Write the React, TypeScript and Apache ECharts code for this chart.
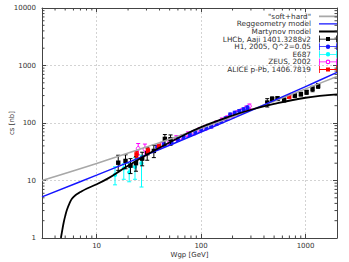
import React, { useEffect, useRef } from 'react';
import * as echarts from 'echarts';

const FONT = 'DejaVu Sans';

// model curves
const softHardW = [3, 10, 30, 100, 300, 1000, 2000];
const softHardCs = [10, 19.8, 38.3, 80.8, 169, 392, 645];
const reggeoW = [3, 10, 30, 100, 300, 1000, 2000];
const reggeoCs = [5.2, 12.4, 27.9, 69.7, 164, 430, 759];
const martynovW = [4.55, 4.7, 4.85, 5.0, 5.2, 5.5, 5.8, 6.3, 7, 8, 10, 13, 17, 25, 40, 63, 100, 200, 300, 500, 1000, 2000];
const martynovCs = [1, 1.4, 1.9, 2.4, 3.1, 4.0, 4.8, 5.6, 6.3, 7.2, 8.6, 11, 15, 23, 37, 57, 85, 135, 170, 215, 275, 315];

// data sets
const lhcbW = [16.1, 18.9, 21.1, 23.8, 27.3, 30.5, 35.3, 45, 51, 430, 479, 539, 624, 790, 902, 1023, 1167, 1320];
const lhcbCs = [20.4, 21.9, 18.1, 20, 24, 29.8, 32.7, 52.9, 52.3, 227, 260, 266, 252, 300, 318, 344, 393, 443];
const lhcbLo = [15, 16, 13.2, 14.5, 18, 22.5, 25, 41, 41, 190, 235, 245, 232, 280, 295, 315, 350, 400];
const lhcbHi = [27.5, 28, 24, 26, 31, 37, 41, 63, 62, 265, 285, 288, 272, 320, 342, 372, 435, 485];

const h1W = [38, 44, 52, 60, 68, 78, 88, 100, 112, 125, 140, 155, 172, 190, 210, 232, 255, 278];
const h1Cs = [38, 42, 46, 52, 58, 63, 70, 78, 84, 88, 99, 108, 120, 140, 150, 160, 172, 185];
const h1Lo = [35, 39, 43, 48, 54, 59, 65, 73, 78, 82, 92, 101, 112, 131, 140, 149, 160, 172];
const h1Hi = [41, 45, 49, 56, 62, 67, 75, 83, 90, 94, 106, 115, 128, 149, 160, 171, 184, 198];

const e687W = [15.0, 18.2, 20.5, 23.3, 26.9];
const e687Cs = [12.5, 16.3, 13.9, 17.3, 20.0];
const e687Lo = [8.4, 10.5, 9.5, 10.5, 7.7];
const e687Hi = [17.3, 19.5, 20, 25, 27.5];

const zeusW = [25, 29, 42, 50, 58, 66, 75, 85, 97, 110, 125, 140, 158, 178, 200, 222, 245, 270, 290];
const zeusCs = [36, 35, 42, 47, 55, 57, 64, 68, 76, 83, 90, 100, 112, 122, 135, 150, 162, 180, 196];
const zeusLo = [28, 27, 38, 42, 50, 52, 58, 62, 69, 75, 82, 91, 102, 111, 123, 137, 148, 164, 178];
const zeusHi = [44, 43, 46, 52, 60, 62, 70, 74, 83, 91, 98, 109, 122, 133, 147, 163, 176, 196, 214];

const aliceW = [24.1, 31, 39.5, 697];
const aliceCs = [28.5, 33, 39, 288];
const aliceLo = [25, 30, 35.5, 270];
const aliceHi = [32, 36.5, 43, 306];

// minor tick positions
const xMinorTicks = [4, 5, 6, 7, 8, 9, 20, 30, 40, 50, 60, 70, 80, 90, 200, 300, 400, 500, 600, 700, 800, 900];
const yMinorTicks = [2, 3, 4, 5, 6, 7, 8, 9, 20, 30, 40, 50, 60, 70, 80, 90, 200, 300, 400, 500, 600, 700, 800, 900, 2000, 3000, 4000, 5000, 6000, 7000, 8000, 9000];

const AXIS_COLOR = '#444';
const TEXT_COLOR = '#333';

const ICON_LINE_THIN = 'path://M0,0L0,0ZM18,7L18,7ZM0,2.8H18V4.2H0Z';
const ICON_LINE_THICK = 'path://M0,0L0,0ZM18,7L18,7ZM0,2.6H18V4.4H0Z';
const ICON_ERR_SQ = 'path://M0,0H0.8V7H0ZM17.2,0H18V7H17.2ZM0,3.1H18V3.9H0ZM7,1.5H11V5.5H7Z';
const ICON_ERR_CIRC = 'path://M0,0H0.8V7H0ZM17.2,0H18V7H17.2ZM0,3.1H18V3.9H0ZM9,1.3A2.2,2.2 0 1 1 9,5.7A2.2,2.2 0 1 1 9,1.3Z';
const ICON_ERR_OPEN = 'path://M0,0H0.8V7H0ZM17.2,0H18V7H17.2ZM0,3.1H6.8V3.9H0ZM11.2,3.1H18V3.9H11.2ZM9,1.2A2.3,2.3 0 1 1 9,5.8A2.3,2.3 0 1 1 9,1.2ZM9,2.3A1.2,1.2 0 1 0 9,4.7A1.2,1.2 0 1 0 9,2.3Z';

function zip(a: number[], b: number[]) {
  return a.map((v, i) => [v, b[i]]);
}

function errSeries(name: string, color: string, marker: string, W: number[], cs: number[], lo: number[], hi: number[], z: number) {
  return {
    type: 'custom',
    name,
    itemStyle: { color },
    data: W.map((w, i) => [w, cs[i], lo[i], hi[i]]),
    encode: { x: 0, y: 1 },
    z,
    renderItem: (params: any, api: any) => {
      const w = api.value(0);
      const p = api.coord([w, api.value(1)]);
      const pl = api.coord([w, api.value(2)]);
      const ph = api.coord([w, api.value(3)]);
      const cap = 2;
      const st = { stroke: color, lineWidth: 1 };
      const children: any[] = [
        { type: 'line', shape: { x1: p[0], y1: pl[1], x2: p[0], y2: ph[1] }, style: st },
        { type: 'line', shape: { x1: p[0] - cap, y1: pl[1], x2: p[0] + cap, y2: pl[1] }, style: st },
        { type: 'line', shape: { x1: p[0] - cap, y1: ph[1], x2: p[0] + cap, y2: ph[1] }, style: st },
      ];
      if (marker === 'square') {
        children.push({ type: 'rect', shape: { x: p[0] - 2.2, y: p[1] - 2.2, width: 4.4, height: 4.4 }, style: { fill: color } });
      } else if (marker === 'circle') {
        children.push({ type: 'circle', shape: { cx: p[0], cy: p[1], r: 2.1 }, style: { fill: color } });
      } else {
        children.push({ type: 'circle', shape: { cx: p[0], cy: p[1], r: 1.9 }, style: { fill: '#fff', stroke: color, lineWidth: 1 } });
      }
      return { type: 'group', children };
    },
  };
}

const fmt = (v: number) => String(Math.round(v));

export default function App() {
  const ref = useRef<HTMLDivElement>(null);
  useEffect(() => {
    if (!ref.current) return;
    const chart = echarts.init(ref.current, null, { renderer: 'svg' });
    const axisCommonX = {
      type: 'log',
      logBase: 10,
      min: 3,
      max: 2000,
      axisLine: { show: true, lineStyle: { color: AXIS_COLOR, width: 1 } },
      axisTick: { show: true, inside: true, length: 4, lineStyle: { color: AXIS_COLOR } },
    };
    const axisCommonY = {
      type: 'log',
      logBase: 10,
      min: 1,
      max: 10000,
      axisLine: { show: true, lineStyle: { color: AXIS_COLOR, width: 1 } },
      axisTick: { show: true, inside: true, length: 4, lineStyle: { color: AXIS_COLOR } },
    };
    const splitLine = { show: true, showMinLine: false, showMaxLine: false, lineStyle: { type: [2, 2], color: '#c8c8c8', width: 0.8 } };
    chart.setOption({
      animation: false,
      backgroundColor: '#fff',
      grid: { left: 42, right: 12, top: 8, bottom: 24, outerBoundsMode: 'none', containLabel: false },
      xAxis: [
        {
          ...axisCommonX,
          position: 'bottom',
          name: 'Wgp [GeV]',
          nameLocation: 'middle',
          nameGap: 13,
          nameMoveOverlap: false,
          nameTextStyle: { fontFamily: FONT, fontSize: 7, color: TEXT_COLOR },
          axisLabel: { showMinLabel: false, showMaxLabel: false, margin: 4, fontFamily: FONT, fontSize: 7, color: TEXT_COLOR, formatter: fmt },
          splitLine,
        },
        {
          ...axisCommonX,
          position: 'top',
          axisLabel: { show: false },
          splitLine: { show: false },
        },
      ],
      yAxis: [
        {
          ...axisCommonY,
          position: 'left',
          name: 'cs [nb]',
          nameLocation: 'middle',
          nameGap: 27,
          nameMoveOverlap: false,
          nameTextStyle: { fontFamily: FONT, fontSize: 7, color: TEXT_COLOR },
          axisLabel: { margin: 6, fontFamily: FONT, fontSize: 7, color: TEXT_COLOR, formatter: fmt },
          splitLine,
        },
        {
          ...axisCommonY,
          position: 'right',
          axisLabel: { show: false },
          splitLine: { show: false },
        },
      ],
      legend: {
        orient: 'vertical',
        align: 'right',
        right: 12,
        top: 12.5,
        padding: 0,
        itemGap: 0,
        itemWidth: 18,
        itemHeight: 7,
        textStyle: { fontFamily: FONT, fontSize: 7.3, color: TEXT_COLOR, lineHeight: 7.6, padding: [0, 3, 0, 0] },
        data: [
          { name: '"soft+hard"', icon: ICON_LINE_THICK, itemStyle: { color: '#a8a8a8', borderWidth: 0 } },
          { name: 'Reggeometry model', icon: ICON_LINE_THIN, itemStyle: { color: '#1515ff', borderWidth: 0 } },
          { name: 'Martynov model', icon: ICON_LINE_THICK, itemStyle: { color: '#000', borderWidth: 0 } },
          { name: 'LHCb, Aaji 1401.3288v2', icon: ICON_ERR_SQ, itemStyle: { color: '#000', borderWidth: 0 } },
          { name: 'H1, 2005, Q^2=0.05', icon: ICON_ERR_CIRC, itemStyle: { color: '#1515ff', borderWidth: 0 } },
          { name: 'E687', icon: ICON_ERR_CIRC, itemStyle: { color: '#00ffff', borderWidth: 0 } },
          { name: 'ZEUS, 2002', icon: ICON_ERR_OPEN, itemStyle: { color: '#ff00ff', borderWidth: 0 } },
          { name: 'ALICE p-Pb, 1406.7819', icon: ICON_ERR_SQ, itemStyle: { color: '#ff0000', borderWidth: 0 } },
        ],
      },
      series: [
        {
          type: 'line', name: '"soft+hard"', data: zip(softHardW, softHardCs), smooth: 0.4, symbol: 'none',
          lineStyle: { color: '#a8a8a8', width: 1.5 }, itemStyle: { color: '#a8a8a8' }, z: 6,
        },
        {
          type: 'line', name: 'Reggeometry model', data: zip(reggeoW, reggeoCs), smooth: 0.4, symbol: 'none',
          lineStyle: { color: '#1515ff', width: 1.5 }, itemStyle: { color: '#1515ff' }, z: 7,
        },
        {
          type: 'line', name: 'Martynov model', data: zip(martynovW, martynovCs), smooth: 0.4, symbol: 'none',
          lineStyle: { color: '#000', width: 1.8 }, itemStyle: { color: '#000' }, z: 8,
        },
        errSeries('LHCb, Aaji 1401.3288v2', '#000', 'square', lhcbW, lhcbCs, lhcbLo, lhcbHi, 5),
        errSeries('H1, 2005, Q^2=0.05', '#1515ff', 'circle', h1W, h1Cs, h1Lo, h1Hi, 4),
        errSeries('E687', '#00ffff', 'circle', e687W, e687Cs, e687Lo, e687Hi, 4),
        errSeries('ZEUS, 2002', '#ff00ff', 'open', zeusW, zeusCs, zeusLo, zeusHi, 3),
        errSeries('ALICE p-Pb, 1406.7819', '#ff0000', 'square', aliceW, aliceCs, aliceLo, aliceHi, 5),
        {
          type: 'custom', name: 'xminor', silent: true, z: 10,
          data: xMinorTicks.map((v) => [v, 1]),
          encode: { x: 0, y: 1 },
          renderItem: (params: any, api: any) => {
            const cs = params.coordSys;
            const p = api.coord([api.value(0), 1]);
            const st = { stroke: AXIS_COLOR, lineWidth: 1 };
            return {
              type: 'group', children: [
                { type: 'line', shape: { x1: p[0], y1: cs.y + cs.height, x2: p[0], y2: cs.y + cs.height - 2.5 }, style: st },
                { type: 'line', shape: { x1: p[0], y1: cs.y, x2: p[0], y2: cs.y + 2.5 }, style: st },
              ],
            };
          },
        },
        {
          type: 'custom', name: 'yminor', silent: true, z: 10,
          data: yMinorTicks.map((v) => [3, v]),
          encode: { x: 0, y: 1 },
          renderItem: (params: any, api: any) => {
            const cs = params.coordSys;
            const p = api.coord([3, api.value(1)]);
            const st = { stroke: AXIS_COLOR, lineWidth: 1 };
            return {
              type: 'group', children: [
                { type: 'line', shape: { x1: cs.x, y1: p[1], x2: cs.x + 2.5, y2: p[1] }, style: st },
                { type: 'line', shape: { x1: cs.x + cs.width, y1: p[1], x2: cs.x + cs.width - 2.5, y2: p[1] }, style: st },
              ],
            };
          },
        },
      ],
    });
    return () => chart.dispose();
  }, []);
  return <div ref={ref} style={{ width: 349, height: 262, position: 'absolute', left: 0, top: 0 }} />;
}
